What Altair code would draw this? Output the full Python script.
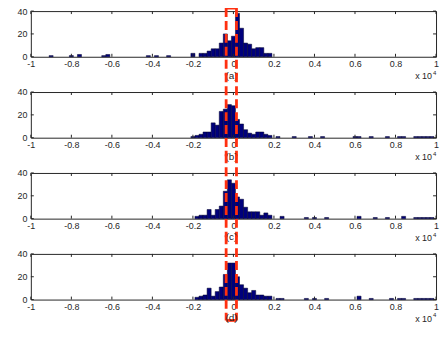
import altair as alt
import pandas as pd

# ---- data (x in units of 1e4, bin width 0.02, bin centres) ----
x_ticks = [-1, -0.8, -0.6, -0.4, -0.2, 0, 0.2, 0.4, 0.6, 0.8, 1]
y_ticks = [0, 20, 40]
panel_labels = ["(a)", "(b)", "(c)", "(d)"]
box_edges = [-0.036, 0.015]

centers_a = [-0.90, -0.80, -0.76, -0.64, -0.62, -0.42, -0.38, -0.32, -0.20, -0.16, -0.14,
             -0.12, -0.10, -0.08, -0.06, -0.04, -0.02, 0.00, 0.02, 0.04, 0.06, 0.08, 0.10,
             0.12, 0.14, 0.16, 0.18]
counts_a = [1, 1, 2, 1, 2, 1, 1, 1, 3, 3, 3,
            5, 7, 7, 12, 20, 14, 18, 38, 25, 12, 11, 7,
            8, 8, 3, 3]

centers_b = [-0.20, -0.18, -0.16, -0.14, -0.12, -0.10, -0.08, -0.06, -0.04, -0.02, 0.00,
             0.02, 0.04, 0.06, 0.08, 0.10, 0.12, 0.14, 0.16, 0.18, 0.22, 0.30, 0.38, 0.44,
             0.60, 0.62, 0.68, 0.76, 0.82, 0.84, 0.90, 0.92, 0.94, 0.96, 0.98]
counts_b = [1, 2, 3, 5, 5, 13, 11, 23, 25, 29, 28,
            16, 12, 7, 4, 3, 5, 5, 3, 2, 1, 1, 1, 1,
            1, 1, 1, 1, 1, 1, 1, 1, 1, 1, 1]

centers_c = [-0.18, -0.16, -0.14, -0.12, -0.10, -0.08, -0.06, -0.04, -0.02, 0.00, 0.02,
             0.04, 0.06, 0.08, 0.10, 0.12, 0.14, 0.16, 0.18, 0.24, 0.36, 0.40, 0.46,
             0.62, 0.70, 0.76, 0.84, 0.90, 0.92, 0.94, 0.96, 0.98]
counts_c = [2, 3, 3, 8, 3, 8, 11, 24, 34, 31, 19,
            17, 10, 6, 6, 6, 3, 5, 3, 2, 1, 1, 1,
            2, 1, 1, 2, 1, 1, 1, 1, 1]

centers_d = [-0.18, -0.16, -0.14, -0.12, -0.10, -0.08, -0.06, -0.04, -0.02, 0.00, 0.02,
             0.04, 0.06, 0.08, 0.10, 0.12, 0.14, 0.16, 0.18, 0.22, 0.24, 0.36, 0.40, 0.46,
             0.62, 0.68, 0.78, 0.82, 0.84, 0.90, 0.92, 0.94, 0.96, 0.98]
counts_d = [2, 3, 4, 10, 3, 7, 11, 22, 32, 32, 20,
            13, 10, 6, 8, 4, 4, 3, 3, 1, 1, 1, 1, 1,
            3, 1, 1, 1, 1, 1, 1, 1, 1, 1]

all_centers = [centers_a, centers_b, centers_c, centers_d]
all_counts = [counts_a, counts_b, counts_c, counts_d]

# ---- style ----
W, H = 408, 46
GAP = 35.5
NAVY = "#00007c"
RED = "#ff3010"
INK = "#262626"
FONT = "Liberation Sans"
RW = 2.8

XAXIS = alt.Axis(values=x_ticks, title=None, ticks=False, tickSize=0,
                 domain=False, grid=False, labelFlush=False,
                 labelOverlap=False, labelExpr="toString(datum.value)",
                 labelFontSize=9, labelPadding=3, labelColor=INK, labelFont=FONT)
YAXIS = alt.Axis(values=y_ticks, title=None, ticks=False, tickSize=0,
                 domain=False, grid=False, labelFontSize=9,
                 labelPadding=4, labelColor=INK, labelFont=FONT)
XS = alt.Scale(domain=[-1, 1], nice=False, zero=False)
YS = alt.Scale(domain=[0, 40], nice=False, zero=False)


def panel(centers, counts, label, idx):
    df = pd.DataFrame({"center": centers, "count": counts})
    bars = (
        alt.Chart(df)
        .transform_calculate(lo="datum.center - 0.01", hi="datum.center + 0.01")
        .mark_bar(fill=NAVY, stroke="#000028", strokeWidth=0.5)
        .encode(
            x=alt.X("lo:Q", scale=XS, axis=XAXIS),
            x2="hi:Q",
            y=alt.Y("count:Q", scale=YS, axis=YAXIS),
            y2=alt.datum(0),
        )
    )
    xt = pd.DataFrame({"t": x_ticks})
    yt = pd.DataFrame({"v": y_ticks})
    tick_top = alt.Chart(xt).mark_rule(color=INK, strokeWidth=1).encode(
        x=alt.X("t:Q", scale=XS, axis=XAXIS), y=alt.value(0), y2=alt.value(3))
    tick_bot = alt.Chart(xt).mark_rule(color=INK, strokeWidth=1).encode(
        x=alt.X("t:Q", scale=XS, axis=XAXIS), y=alt.value(H - 3), y2=alt.value(H))
    tick_l = alt.Chart(yt).mark_rule(color=INK, strokeWidth=1).encode(
        y=alt.Y("v:Q", scale=YS, axis=YAXIS), x=alt.value(0), x2=alt.value(3))
    tick_r = alt.Chart(yt).mark_rule(color=INK, strokeWidth=1).encode(
        y=alt.Y("v:Q", scale=YS, axis=YAXIS), x=alt.value(W - 3), x2=alt.value(W))

    top = -3 if idx == 0 else -(GAP / 2 + 1)
    bot = H + 21 if idx == 3 else H + GAP / 2 + 1
    red = alt.Chart(pd.DataFrame({"b": box_edges})).mark_rule(
        color=RED, strokeWidth=RW, strokeDash=[9, 4]).encode(
        x=alt.X("b:Q", scale=XS, axis=XAXIS), y=alt.value(top), y2=alt.value(bot))
    layers = [bars, tick_top, tick_bot, tick_l, tick_r, red]
    edge_df = pd.DataFrame({"lo": [box_edges[0]], "hi": [box_edges[1]]})
    if idx == 0:
        layers.append(alt.Chart(edge_df).mark_rule(color=RED, strokeWidth=RW).encode(
            x=alt.X("lo:Q", scale=XS, axis=XAXIS), x2="hi:Q", y=alt.value(top)))
    if idx == 3:
        layers.append(alt.Chart(edge_df).mark_rule(color=RED, strokeWidth=RW).encode(
            x=alt.X("lo:Q", scale=XS, axis=XAXIS), x2="hi:Q", y=alt.value(bot)))

    lab = alt.Chart(pd.DataFrame({"s": [label]})).mark_text(
        font=FONT, fontSize=10, color=INK, align="center", baseline="middle").encode(
        text="s:N", x=alt.value(W / 2 - 2), y=alt.value(H + 19))
    exp1 = alt.Chart(pd.DataFrame({"s": ["x 10"]})).mark_text(
        font=FONT, fontSize=9, color=INK, align="right", baseline="middle").encode(
        text="s:N", x=alt.value(W - 4), y=alt.value(H + 19.5))
    exp2 = alt.Chart(pd.DataFrame({"s": ["4"]})).mark_text(
        font=FONT, fontSize=6, color=INK, align="left", baseline="middle").encode(
        text="s:N", x=alt.value(W - 3), y=alt.value(H + 16))
    layers += [lab, exp1, exp2]
    return alt.layer(*layers).properties(width=W, height=H)


panels = [panel(all_centers[i], all_counts[i], panel_labels[i], i) for i in range(4)]

chart = (
    alt.vconcat(*panels, spacing=GAP, bounds="flush")
    .properties(padding={"left": 8, "top": -3, "right": 0, "bottom": 0}, background="white")
    .configure_view(stroke=INK, strokeWidth=1)
)

chart.save("out.html", embed_options={"renderer": "svg", "actions": False})
